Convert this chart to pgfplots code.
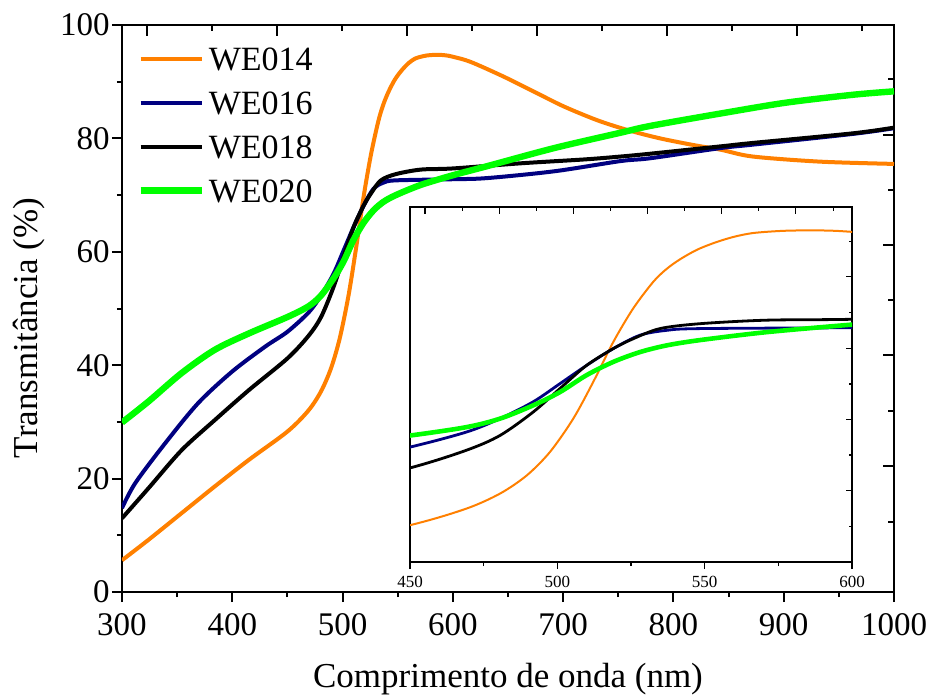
\documentclass[border=0pt]{standalone}
\usepackage{fontspec}
\setmainfont{Liberation Serif}
\usepackage{pgfplots}
\usepackage{pgfplotstable}
\pgfplotsset{compat=1.18}
\definecolor{wor}{RGB}{255,128,0}
\definecolor{wbl}{RGB}{0,0,128}
\definecolor{wgr}{RGB}{0,255,0}

\pgfplotstableread{
x y
300 5.6
324 9.2
354 13.9
384 18.6
415 23.3
450 28.3
469 32.0
480.5 35.4
489.6 39.5
497.5 44.8
505.4 52.3
512.2 60.6
519 69.6
525.7 77.1
532.5 83.1
537 86.0
541.6 88.2
547.5 90.4
554 92.1
560 93.3
566 94.1
573 94.5
580 94.7
591.3 94.7
600 94.4
616 93.5
646 90.9
676 88.0
701 85.6
731 83.2
758 81.5
788 80.0
819 78.8
843 78.0
872 76.8
933 75.9
1000 75.5
}\dataA

\pgfplotstableread{
x y
300 14.8
312 19.2
339 26.2
369 33.3
400 38.9
430 43.3
450 45.9
469.2 49.3
480.5 52.3
491.8 56.1
500.9 60.2
509.9 64.3
519 68.1
528 71.1
537 72.2
548.3 72.6
600 72.8
631 73.0
692 74.2
752 76.0
779 76.5
843 78.3
872 78.9
963 80.8
1000 81.8
}\dataB

\pgfplotstableread{
x y
300 13.0
324 18.3
354 25.0
384 30.3
415 35.6
450 41.2
469.2 45.2
480.5 48.5
491.8 53.8
500.9 59.1
509.9 64.3
519 68.1
525.7 70.3
534.8 72.6
548.3 73.7
571 74.5
600 74.7
661 75.6
720 76.3
752 76.8
779 77.3
843 78.6
872 79.2
963 80.9
1000 81.9
}\dataC

\pgfplotstableread{
x y
300 29.9
324 33.6
354 38.6
384 42.7
415 45.6
450 48.5
469.2 50.4
480.5 52.3
491.8 55.3
500.9 58.3
509.9 62.1
519 65.1
528 67.3
537 68.8
548.3 70.0
571 71.8
600 73.5
631 75.1
692 78.3
752 81.0
779 82.2
843 84.4
902 86.3
963 87.7
1000 88.3
}\dataD

\begin{document}
\begin{tikzpicture}
% main axis
\begin{axis}[
  at={(0,0)}, anchor=south west,
  scale only axis, width=386pt, height=283.5pt,
  xmin=300, xmax=1000, ymin=0, ymax=100,
  xtick={300,400,...,1000}, minor xtick={350,450,...,950},
  ytick={0,20,...,100}, minor ytick={10,30,...,90},
  xtick pos=bottom, ytick pos=left, tick align=outside,
  major tick length=5pt, minor tick length=2.5pt,
  tick style={line width=1pt, black},
  axis line style={line width=1pt},
  /pgf/number format/assume math mode=true,
  /pgf/number format/1000 sep={},
  tick label style={font=\fontsize{16.5}{19}\selectfont},
  yticklabel style={inner xsep=1pt, inner ysep=0pt},
  xticklabel style={inner sep=0pt, yshift=-5.5pt},
  xlabel={Comprimento de onda (nm)},
  ylabel={Transmitância (\%)},
  label style={font=\fontsize{17.5}{20}\selectfont},
  xlabel style={at={(axis description cs:0.5,-0.1693)}, anchor=base},
  ylabel style={at={(axis description cs:-0.110,0.4656)}, anchor=base},
  legend style={draw=none, fill=none, at={(axis description cs:0.0194,0.9617)}, anchor=north west,
    inner sep=0pt, row sep=10.5pt, column sep=2pt, font=\fontsize{17}{20}\selectfont,
    cells={anchor=west}, nodes={inner sep=0pt, text height=11.5pt, text depth=0pt}},
  legend image code/.code={\draw[#1] (0pt,0pt) -- (30.5pt,0pt);},
]
\addplot[wor, line width=2pt, smooth] table {\dataA};
\addlegendentry{WE014}
\addplot[wbl, line width=2pt, smooth] table {\dataB};
\addlegendentry{WE016}
\addplot[black, line width=2pt, smooth] table {\dataC};
\addlegendentry{WE018}
\addplot[wgr, line width=3.2pt, smooth] table {\dataD};
\addlegendentry{WE020}
\end{axis}
% top and right ticks of main axis
\begin{axis}[
  at={(0,0)}, anchor=south west,
  scale only axis, width=386pt, height=283.5pt,
  xmin=0, xmax=772, ymin=0, ymax=567,
  axis line style={draw=none},
  xtick pos=top, ytick pos=right, tick align=inside,
  xtick={25,155,285,415,545,675}, minor xtick={90,220,350,480,610,740},
  ytick={126.3,236.8,346.5,456.6}, minor ytick={70.5,181.4,292.2,401.6,512.8},
  xticklabels={}, yticklabels={},
  major tick length=5.5pt, minor tick length=3pt,
  tick style={line width=1pt, black},
]
\end{axis}
% inset
\begin{axis}[
  at={(144pt,15pt)}, anchor=south west,
  scale only axis, width=221pt, height=177.5pt,
  xmin=450, xmax=600, ymin=20, ymax=100,
  axis background/.style={fill=white},
  xtick={450,500,550,600}, minor xtick={475,525,575},
  ytick=\empty,
  xtick pos=bottom, tick align=outside,
  major tick length=3.5pt, minor tick length=2pt,
  tick style={line width=0.6pt, black},
  axis line style={line width=0.6pt},
  /pgf/number format/assume math mode=true,
  tick label style={font=\fontsize{8.5}{10}\selectfont},
]
\addplot[wor, line width=1pt, smooth] table {\dataA};
\addplot[wbl, line width=1.4pt, smooth] table {\dataB};
\addplot[black, line width=1.4pt, smooth] table {\dataC};
\addplot[wgr, line width=2.3pt, smooth] table {\dataD};
\end{axis}
% inset top and left ticks
\begin{axis}[
  at={(144pt,15pt)}, anchor=south west,
  scale only axis, width=221pt, height=177.5pt,
  xmin=0, xmax=442, ymin=20, ymax=100,
  axis line style={draw=none},
  xtick pos=top, ytick pos=left, tick align=inside,
  xtick={15,89.3,163.3,237.3,311.7,385.7}, minor xtick={52.3,126.7,200.7,274.3,348.3,423.3},
  ytick=\empty, minor ytick={30,40,...,90},
  xticklabels={}, yticklabels={},
  major tick length=3.5pt, minor tick length=2pt,
  tick style={line width=0.6pt, black},
]
\end{axis}
% inset right ticks
\begin{axis}[
  at={(144pt,15pt)}, anchor=south west,
  scale only axis, width=221pt, height=177.5pt,
  xmin=0, xmax=442, ymin=0, ymax=355,
  axis line style={draw=none},
  xtick=\empty, ytick pos=right, tick align=inside,
  ytick={71.3,142.7,213.7,285.3}, minor ytick={35.3,107,178,249.3,320.3},
  yticklabels={},
  major tick length=3pt, minor tick length=1.6pt,
  tick style={line width=0.6pt, black},
]
\end{axis}
\pgfresetboundingbox
\path (-61pt,-52.5pt) rectangle (402pt,296pt);
\end{tikzpicture}
\end{document}
